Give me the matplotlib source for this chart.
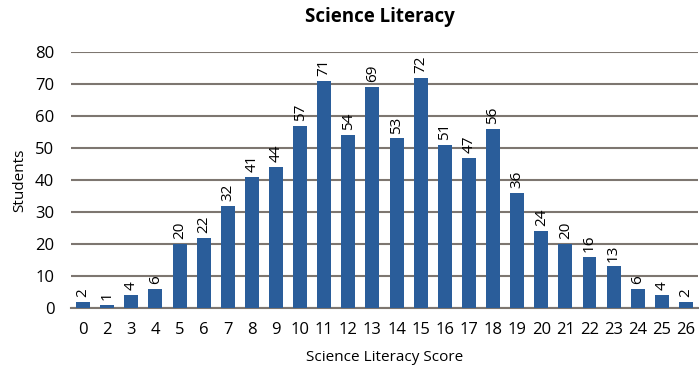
import numpy as np
import matplotlib.pyplot as plt

## Data
scores = ['0', '2', '3', '4', '5', '6', '7', '8', '9', '10', '11', '12', '13',
          '14', '15', '16', '17', '18', '19', '20', '21', '22', '23', '24', '25', '26']
students = [2, 1, 4, 6, 20, 22, 32, 41, 44, 57, 71, 54, 69,
            53, 72, 51, 47, 56, 36, 24, 20, 16, 13, 6, 4, 2]

plt.rcParams['font.family'] = ['Open Sans', 'DejaVu Sans']

fig = plt.figure(figsize=(6.99, 3.68), dpi=100)
ax = fig.add_axes([0.1016, 0.163, 0.8970, 0.6957])

x = np.arange(len(scores))
bars = ax.bar(x, students, width=0.58, color='#2a5d9a', zorder=3)

# value labels above each bar, turned sideways
for xi, v in zip(x, students):
    ax.text(xi, v + 1.5, str(v), rotation=90, ha='center', va='bottom',
            fontsize=11, clip_on=False)

ax.set_xlim(-0.5, len(scores) - 0.5)
ax.set_ylim(0, 80)
ax.set_yticks(range(0, 81, 10))
ax.set_xticks(x)
ax.set_xticklabels(scores)
ax.grid(axis='y', color='#7d7670', linewidth=1.5, zorder=0)
for s in ['top', 'right', 'left']:
    ax.spines[s].set_visible(False)
ax.spines['bottom'].set_color('#7d7670')
ax.spines['bottom'].set_linewidth(1.5)
ax.tick_params(length=0, labelsize=12)
ax.tick_params(axis='x', pad=10)
ax.tick_params(axis='y', pad=12)

ax.set_ylabel('Students', fontsize=11, labelpad=6)
ax.set_xlabel('Science Literacy Score', fontsize=11, labelpad=9)
fig.text(0.543, 0.955, 'Science Literacy', ha='center', va='center',
         fontsize=13.5, fontweight='bold')

fig.savefig('out.png', dpi=100)
